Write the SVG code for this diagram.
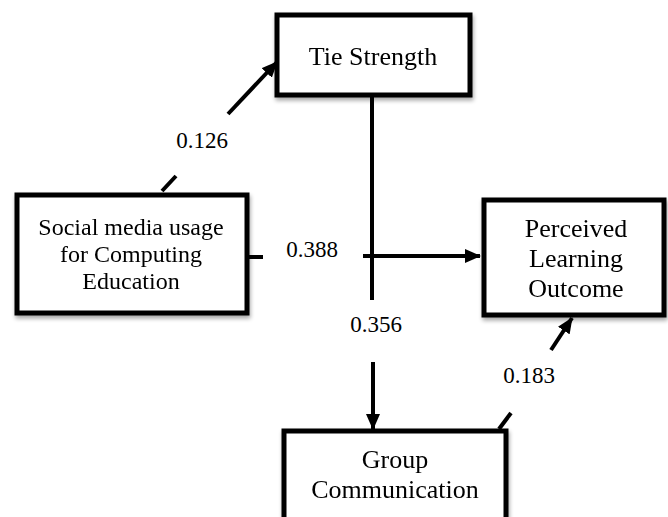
<svg xmlns="http://www.w3.org/2000/svg" width="668" height="517" viewBox="0 0 668 517">
<style>
.box{fill:#fff;stroke:#000;stroke-width:5}
text{font-family:'Liberation Serif','Times New Roman',serif;fill:#000;text-anchor:middle}
.lbl{font-size:23px}
.c{stroke:#000;stroke-width:4;fill:none}
</style>
<defs>
<marker id="ah" markerUnits="userSpaceOnUse" markerWidth="16" markerHeight="14" refX="15" refY="7" orient="auto">
<path d="M0,0 L16,7 L0,14 Z" fill="#000"/>
</marker>
<filter id="sh" x="-10%" y="-10%" width="120%" height="130%">
<feGaussianBlur in="SourceAlpha" stdDeviation="2"/>
<feOffset dx="1" dy="3"/>
<feComponentTransfer><feFuncA type="linear" slope="0.35"/></feComponentTransfer>
<feMerge><feMergeNode/><feMergeNode in="SourceGraphic"/></feMerge>
</filter>
</defs>
<rect width="668" height="517" fill="#fff"/>
<g id="connectors">
<line class="c" x1="162" y1="191" x2="176" y2="176"/>
<line class="c" x1="228" y1="114" x2="277" y2="62" marker-end="url(#ah)"/>
<line class="c" x1="249" y1="257" x2="263" y2="257"/>
<line class="c" x1="363" y1="256" x2="480" y2="256" marker-end="url(#ah)"/>
<line class="c" x1="372" y1="97" x2="372" y2="300"/>
<line class="c" x1="373" y1="362" x2="373" y2="429" marker-end="url(#ah)"/>
<line class="c" x1="499" y1="429" x2="511" y2="413"/>
<line class="c" x1="551" y1="350" x2="572" y2="318" marker-end="url(#ah)"/>
<text class="lbl" x="202" y="148">0.126</text>
<text class="lbl" x="312" y="257">0.388</text>
<text class="lbl" x="376" y="332">0.356</text>
<text class="lbl" x="529" y="383">0.183</text>
</g>
<g id="tie" filter="url(#sh)">
<rect class="box" x="277" y="15" width="193" height="80"/>
<text x="373" y="65" font-size="26">Tie Strength</text>
</g>
<g id="social" filter="url(#sh)">
<rect class="box" x="17" y="195" width="230" height="118"/>
<text x="131" y="235" font-size="24">Social media usage</text>
<text x="131" y="262" font-size="24">for Computing</text>
<text x="131" y="289" font-size="24">Education</text>
</g>
<g id="perceived" filter="url(#sh)">
<rect class="box" x="484" y="200" width="180" height="115"/>
<text x="576" y="237" font-size="26">Perceived</text>
<text x="576" y="267" font-size="26">Learning</text>
<text x="576" y="297" font-size="26">Outcome</text>
</g>
<g id="group" filter="url(#sh)">
<rect class="box" x="284" y="431" width="222" height="95"/>
<text x="395" y="468" font-size="26">Group</text>
<text x="395" y="498" font-size="26">Communication</text>
</g>
</svg>
